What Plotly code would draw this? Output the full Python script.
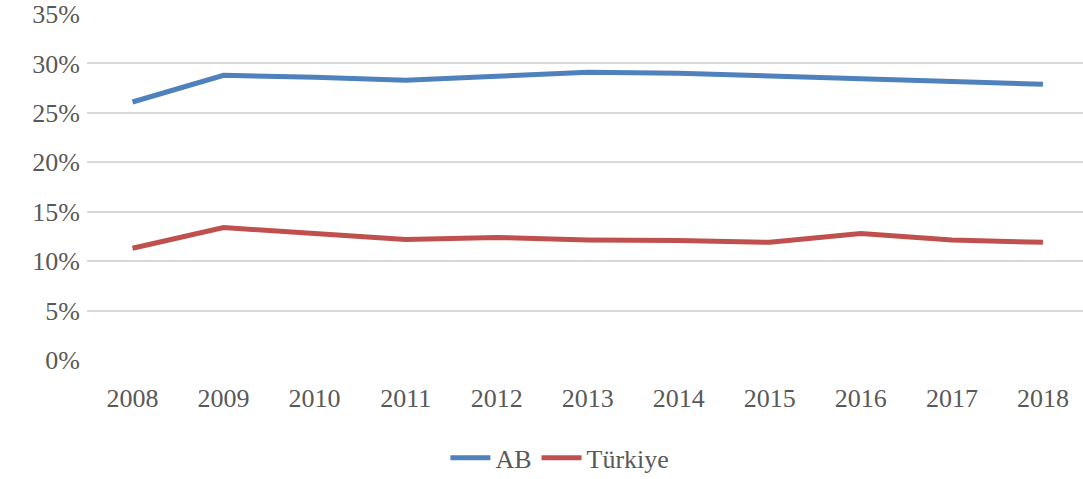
import plotly.graph_objects as go

years = ["2008", "2009", "2010", "2011", "2012", "2013", "2014", "2015", "2016", "2017", "2018"]
ab = [0.261, 0.288, 0.286, 0.283, 0.287, 0.291, 0.290, 0.287, 0.285, 0.281, 0.279]
turkiye = [0.113, 0.134, 0.128, 0.122, 0.124, 0.1215, 0.121, 0.119, 0.128, 0.1215, 0.119]
y_ticks = [0, 0.05, 0.10, 0.15, 0.20, 0.25, 0.30, 0.35]
y_tick_labels = ["0%", "5%", "10%", "15%", "20%", "25%", "30%", "35%"]

FONT = "'Liberation Serif', 'DejaVu Serif', serif"
TXT = "#595959"
FS = 26

fig = go.Figure()
fig.add_trace(go.Scatter(x=years, y=ab, mode="lines", name="AB",
                         line=dict(color="#4F81BD", width=5)))
fig.add_trace(go.Scatter(x=years, y=turkiye, mode="lines", name="Türkiye",
                         line=dict(color="#C0504D", width=5)))

fig.update_layout(
    width=1083, height=479,
    margin=dict(l=87, r=0, t=14, b=119),
    plot_bgcolor="white", paper_bgcolor="white",
    font=dict(family=FONT, size=FS, color=TXT),
    showlegend=True,
    legend=dict(orientation="h", xref="container", yref="container",
                x=0.517, xanchor="center", y=0.044, yanchor="middle",
                font=dict(family=FONT, size=FS, color=TXT),
                itemwidth=40, traceorder="normal"),
)
fig.update_xaxes(type="category", range=[-0.5, 10.44], showgrid=False, showline=False,
                 zeroline=False, ticks="", ticklabelstandoff=20, automargin=False,
                 tickfont=dict(family=FONT, size=FS, color=TXT))
fig.update_yaxes(range=[0, 0.35], tickvals=y_ticks, ticktext=y_tick_labels,
                 showgrid=True, gridcolor="#D9D9D9", gridwidth=1.5,
                 zeroline=False, showline=False, ticks="", ticklabelstandoff=6,
                 ticklabeloverflow="allow", automargin=False,
                 tickfont=dict(family=FONT, size=FS, color=TXT))

fig.write_html("out.html", config={"displayModeBar": False},
               post_script="document.body.style.margin='0';")
